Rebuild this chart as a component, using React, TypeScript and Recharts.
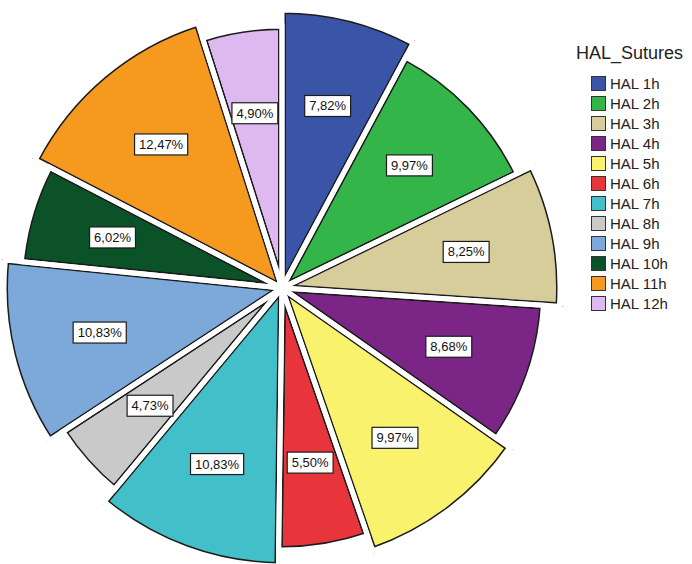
import React from 'react'
import { PieChart, Pie, Cell, Legend } from 'recharts'

// HAL_Sutures, share of each hour position (%)
const categories = ['HAL 1h', 'HAL 2h', 'HAL 3h', 'HAL 4h', 'HAL 5h', 'HAL 6h', 'HAL 7h', 'HAL 8h', 'HAL 9h', 'HAL 10h', 'HAL 11h', 'HAL 12h']
const percents = [7.82, 9.97, 8.25, 8.68, 9.97, 5.5, 10.83, 4.73, 10.83, 6.02, 12.47, 4.9]
const colors = ['#3A55A8', '#34B54A', '#D7CD9B', '#7B2686', '#F8F26C', '#E8343B', '#42BFC9', '#C9C9C9', '#7CA9D9', '#0C5229', '#F69A1F', '#DDB9F0']
const legendTitle = 'HAL_Sutures'

const data = categories.map((name, i) => ({ name, value: percents[i] }))

const W = 692
const H = 564
const CX = 282
const CY = 288
const R_BIG = 278
const R_SMALL = 262
const FONT = "Arial, 'Liberation Sans', sans-serif"
const OUTLINE = '#1c1c1c'

const isBig = (i: number) => i % 2 === 0

const fmt = (v: number) => v.toFixed(2).replace('.', ',') + '%'

// rough Arial width at 13px
const textWidth = (s: string) =>
  s.split('').reduce((w, c) => w + (c === ',' ? 3.6 : c === '%' ? 11.6 : 7.23), 0)

const renderLabel = (props: any) => {
  const { cx, cy, midAngle, index, value } = props
  const r = (isBig(index) ? R_BIG : R_SMALL) * 0.675
  const rad = (-midAngle * Math.PI) / 180
  const x = cx + r * Math.cos(rad)
  const y = cy + r * Math.sin(rad)
  const txt = fmt(value)
  const w = textWidth(txt) + 9
  const h = 21
  return (
    <g key={'lbl' + index}>
      <rect x={x - w / 2} y={y - h / 2} width={w} height={h} fill="#fff" stroke={OUTLINE} strokeWidth={1.2} />
      <text x={x} y={y + 4.5} textAnchor="middle" fontSize={13} fontFamily={FONT} fill="#111">
        {txt}
      </text>
    </g>
  )
}

const LegendBox = () => (
  <div style={{ fontFamily: FONT, color: '#222' }}>
    <div style={{ fontSize: 18, lineHeight: '22px', marginBottom: 9 }}>{legendTitle}</div>
    {categories.map((c, i) => (
      <div key={c} style={{ display: 'flex', alignItems: 'center', height: 20, paddingLeft: 15 }}>
        <span
          style={{
            display: 'inline-block',
            width: 13,
            height: 13,
            background: colors[i],
            border: '1px solid #333',
            marginRight: 4,
          }}
        />
        <span style={{ fontSize: 15 }}>{c}</span>
      </div>
    ))}
  </div>
)

export default function App() {
  const common = {
    data,
    dataKey: 'value',
    nameKey: 'name',
    cx: CX,
    cy: CY,
    startAngle: 90,
    endAngle: -270,
    isAnimationActive: false,
    legendType: 'none' as const,
  }
  return (
    <div style={{ position: 'absolute', left: 0, top: 0, width: W, height: H, background: '#fff' }}>
      <PieChart width={W} height={H} margin={{ top: 0, right: 0, bottom: 0, left: 0 }}>
        {/* filled slices with wide dark stroke */}
        <Pie {...common} outerRadius={R_SMALL} strokeWidth={8}>
          {data.map((_, i) => (
            <Cell key={i} fill={isBig(i) ? 'none' : colors[i]} stroke={isBig(i) ? 'none' : OUTLINE} />
          ))}
        </Pie>
        <Pie {...common} outerRadius={R_BIG} strokeWidth={8}>
          {data.map((_, i) => (
            <Cell key={i} fill={isBig(i) ? colors[i] : 'none'} stroke={isBig(i) ? OUTLINE : 'none'} />
          ))}
        </Pie>
        {/* white gaps between slices */}
        <Pie {...common} outerRadius={R_SMALL} strokeWidth={5}>
          {data.map((_, i) => (
            <Cell key={i} fill="none" stroke={isBig(i) ? 'none' : '#fff'} />
          ))}
        </Pie>
        <Pie {...common} outerRadius={R_BIG} strokeWidth={5}>
          {data.map((_, i) => (
            <Cell key={i} fill="none" stroke={isBig(i) ? '#fff' : 'none'} />
          ))}
        </Pie>
        {/* clean up outside the slice edges */}
        <Pie {...common} innerRadius={R_SMALL + 1} outerRadius={R_BIG + 8} stroke="none">
          {data.map((_, i) => (
            <Cell key={i} fill={isBig(i) ? 'none' : '#fff'} />
          ))}
        </Pie>
        <Pie {...common} innerRadius={R_BIG + 1} outerRadius={R_BIG + 8} stroke="none">
          {data.map((_, i) => (
            <Cell key={i} fill={isBig(i) ? '#fff' : 'none'} />
          ))}
        </Pie>
        {/* percentage labels */}
        <Pie {...common} outerRadius={R_BIG} stroke="none" fill="none" label={renderLabel} labelLine={false} />
        <Legend
          content={() => <LegendBox />}
          wrapperStyle={{ position: 'absolute', left: 576, top: 42, width: 116 }}
        />
      </PieChart>
    </div>
  )
}
